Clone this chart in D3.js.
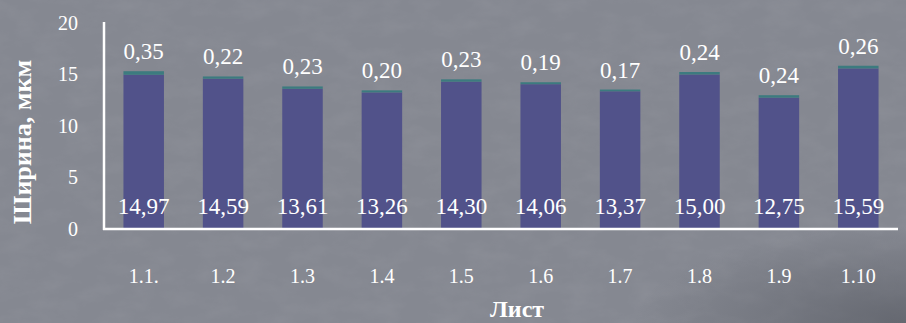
<!DOCTYPE html>
<html>
<head>
<meta charset="utf-8">
<script src="https://cdn.jsdelivr.net/npm/d3@7/dist/d3.min.js"></script>
<style>
  html, body { margin: 0; padding: 0; background: #7d8089; }
  svg { display: block; }
</style>
</head>
<body>
<svg id="chart" width="906" height="323"></svg>
<script>
// Sheet labels and the two stacked components of the width (µm)
const sheets = ["1.1.", "1.2", "1.3", "1.4", "1.5", "1.6", "1.7", "1.8", "1.9", "1.10"];
const baseWidth = [14.97, 14.59, 13.61, 13.26, 14.30, 14.06, 13.37, 15.00, 12.75, 15.59];
const extraWidth = [0.35, 0.22, 0.23, 0.20, 0.23, 0.19, 0.17, 0.24, 0.24, 0.26];
const yTicks = [0, 5, 10, 15, 20];

const W = 906, H = 323;
const FONT = "'Liberation Serif', 'DejaVu Serif', serif";
const svg = d3.select("#chart");

// Background with a soft mottled texture
const defs = svg.append("defs");
const grain = defs.append("filter").attr("id", "grain")
  .attr("x", 0).attr("y", 0).attr("width", "100%").attr("height", "100%");
grain.append("feTurbulence").attr("type", "fractalNoise")
  .attr("baseFrequency", "0.03 0.06").attr("numOctaves", 4).attr("seed", 7);
grain.append("feColorMatrix").attr("type", "matrix")
  .attr("values", "0 0 0 0 0.4  0 0 0 0 0.41  0 0 0 0 0.45  0 0 0 -1.2 0.75");
const corner = defs.append("radialGradient").attr("id", "corner")
  .attr("cx", 1).attr("cy", 1).attr("r", 0.3);
corner.append("stop").attr("offset", 0).attr("stop-color", "#4a4d55").attr("stop-opacity", 0.55);
corner.append("stop").attr("offset", 1).attr("stop-color", "#4a4d55").attr("stop-opacity", 0);

svg.append("rect").attr("width", W).attr("height", H).attr("fill", "#858891");
svg.append("rect").attr("width", W).attr("height", H).attr("fill", "#fff").attr("filter", "url(#grain)").attr("opacity", 0.22);
svg.append("rect").attr("width", W).attr("height", H).attr("fill", "url(#corner)");

// Scales
const x = d3.scaleBand().domain(sheets).range([104, 898]).paddingInner(0.49).paddingOuter(0.245);
const y = d3.scaleLinear().domain([0, 20]).range([229, 23]);

// Bars: base segment and the thin segment stacked on top
const rows = sheets.map((s, i) => ({ s, a: baseWidth[i], b: extraWidth[i] }));

svg.append("g").selectAll("rect").data(rows).join("rect")
  .attr("x", d => x(d.s)).attr("width", x.bandwidth())
  .attr("y", d => y(d.a)).attr("height", d => y(0) - y(d.a))
  .attr("fill", "#51528a");

svg.append("g").selectAll("rect").data(rows).join("rect")
  .attr("x", d => x(d.s)).attr("width", x.bandwidth())
  .attr("y", d => y(d.a + d.b)).attr("height", d => y(d.a) - y(d.a + d.b))
  .attr("fill", "#3c7b7f");

const fmt = v => v.toFixed(2).replace(".", ",");

// Value labels
svg.append("g").selectAll("text").data(rows).join("text")
  .attr("x", d => x(d.s) + x.bandwidth() / 2).attr("y", y(0) - 15)
  .attr("text-anchor", "middle").attr("font-size", 23)
  .attr("font-family", FONT).attr("fill", "#fff")
  .text(d => fmt(d.a));

svg.append("g").selectAll("text").data(rows).join("text")
  .attr("x", d => x(d.s) + x.bandwidth() / 2).attr("y", d => y(d.a + d.b) - 12)
  .attr("text-anchor", "middle").attr("font-size", 23)
  .attr("font-family", FONT).attr("fill", "#fff")
  .text(d => fmt(d.b));

// Y axis
const yAxis = svg.append("g").attr("transform", "translate(104,0)")
  .call(d3.axisLeft(y).tickValues(yTicks).tickSize(0).tickPadding(26));
yAxis.attr("font-family", FONT);
yAxis.select(".domain").attr("stroke", "#fff").attr("stroke-width", 2.5).attr("d", `M0,${y(20) - 1}V${y(0) + 1}`);
yAxis.selectAll("text").attr("font-size", 20).attr("fill", "#fff").attr("font-family", FONT);

// X axis
const xAxis = svg.append("g").attr("transform", `translate(0,${y(0)})`)
  .call(d3.axisBottom(x).tickSize(0).tickPadding(40));
xAxis.attr("font-family", FONT);
xAxis.select(".domain").attr("stroke", "#fff").attr("stroke-width", 2.5).attr("d", "M103,0H898");
xAxis.selectAll("text").attr("font-size", 20).attr("fill", "#fff").attr("font-family", FONT);

// Axis titles
svg.append("text").attr("transform", "translate(31,142) rotate(-90)")
  .attr("text-anchor", "middle").attr("font-size", 26).attr("font-weight", "bold")
  .attr("font-family", FONT).attr("fill", "#fff")
  .text("Ширина, мкм");

svg.append("text").attr("x", 517).attr("y", 317)
  .attr("text-anchor", "middle").attr("font-size", 24).attr("font-weight", "bold")
  .attr("font-family", FONT).attr("fill", "#fff")
  .text("Лист");
</script>
</body>
</html>
